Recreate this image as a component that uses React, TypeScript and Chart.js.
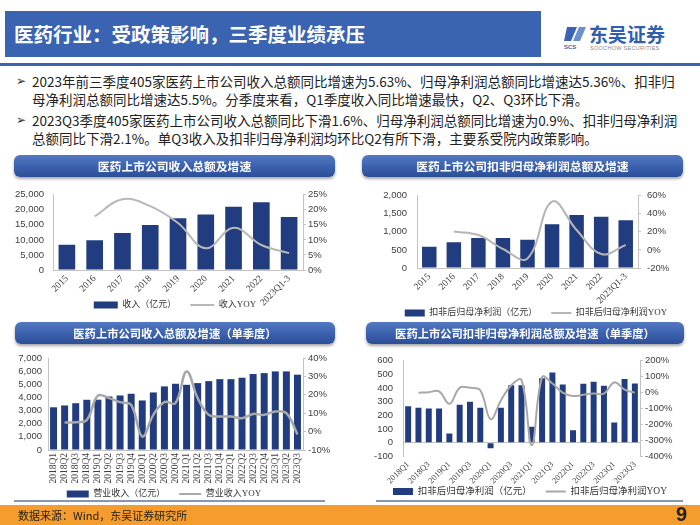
import React, { useEffect, useRef } from "react";
import { Chart, registerables } from "chart.js";
Chart.register(...registerables);

// ---------- DATA ----------
const annualCats = ["2015", "2016", "2017", "2018", "2019", "2020", "2021", "2022", "2023Q1-3"];
const annualRevenue = [8400, 9900, 12300, 14900, 17200, 18400, 21000, 22500, 17600];
const annualRevenueYoy = [null, 17.8, 23.5, 21.2, 15.6, 7.2, 14.0, 8.3, 5.6];
const annualProfit = [585, 710, 830, 830, 780, 1210, 1465, 1420, 1320];
const annualProfitYoy = [null, 20.3, 16.5, 1.0, -9.4, 53.5, 22.0, -4.5, 5.5];

const quarterCats = [
  "2018Q1", "2018Q2", "2018Q3", "2018Q4",
  "2019Q1", "2019Q2", "2019Q3", "2019Q4",
  "2020Q1", "2020Q2", "2020Q3", "2020Q4",
  "2021Q1", "2021Q2", "2021Q3", "2021Q4",
  "2022Q1", "2022Q2", "2022Q3", "2022Q4",
  "2023Q1", "2023Q2", "2023Q3",
];
const quarterRevenue = [3250, 3390, 3560, 3820, 3830, 4070, 4150, 4280, 3770, 4380, 4840, 5040, 4960, 5090, 5240, 5390, 5390, 5500, 5780, 5850, 5980, 5980, 5730];
const quarterRevenueYoy = [null, 4.9, 5.1, 6.4, 19.5, 18.2, 16.0, 14.5, -2.7, 9.1, 16.0, 15.5, 32.7, 18.2, 9.1, 8.2, 8.2, 7.3, 9.6, 9.1, 10.9, 10.0, -1.5];
const quarterProfit = [268, 257, 250, 250, 68, 278, 300, 256, -40, 256, 420, 420, 117, 471, 513, 427, 92, 432, 447, 417, 149, 466, 434];
const quarterProfitYoy = [null, 0, 3, 8, -70, 30, 30, 15, -166, -49, 46, 78, -330, 97, 57, 0, -21, -13, -6, -6, 64, 19, 0];

const titleText = "医药行业：受政策影响，三季度业绩承压";
const bulletLines = [
  ["2023年前三季度405家医药上市公司收入总额同比增速为5.63%、归母净利润总额同比增速达5.36%、扣非归", "母净利润总额同比增速达5.5%。分季度来看，Q1季度收入同比增速最快，Q2、Q3环比下滑。"],
  ["2023Q3季度405家医药上市公司收入总额同比下滑1.6%、归母净利润总额同比增速为0.9%、扣非归母净利润", "总额同比下滑2.1%。单Q3收入及扣非归母净利润均环比Q2有所下滑，主要系受院内政策影响。"],
];

// ---------- STYLE ----------
const BAR = "#213c7f";
const AXIS = "#c3c3c3";
const TICK = "#404040";
const SANS = "'Liberation Sans Narrow', 'Liberation Sans', Arial, sans-serif";
const SERIF = "'Liberation Serif', 'Noto Sans CJK SC', serif";
const CJK = "'Noto Sans CJK SC', 'Liberation Sans', sans-serif";

type Props = {
  left: number; top: number; width: number; height: number;
  cats: string[]; bars: number[]; line: (number | null)[];
  barLabel: string; lineLabel: string;
  yMin: number; yMax: number; yStep: number;
  y1Min: number; y1Max: number; y1Step: number;
  leftW: number; rightW: number; xH: number; padTop: number;
  rot: number; skipOdd: boolean; barPct: number; xFont: number;
  lineColor: string; lineWidth: number;
  leftPad: number; rightPad: number;
  legFont: number; legPad: number; boxW: number; legDx: number; legDy: number;
};

function fmt(v: number) {
  const s = String(Math.abs(v)).replace(/\B(?=(\d{3})+(?!\d))/g, ",");
  return (v < 0 ? "-" : "") + s;
}

function ComboChart(p: Props) {
  const ref = useRef<HTMLCanvasElement>(null);
  useEffect(() => {
    const legendShift = {
      id: "legendShift",
      afterLayout(chart: any) {
        const l = chart.legend;
        if (!l) return;
        l.left += p.legDx; l.right += p.legDx;
        l.top += p.legDy; l.bottom += p.legDy;
      },
    };
    const chart = new Chart(ref.current as HTMLCanvasElement, {
      type: "bar",
      data: {
        labels: p.cats,
        datasets: [
          {
            type: "bar",
            label: p.barLabel,
            data: p.bars,
            backgroundColor: BAR,
            yAxisID: "y",
            barPercentage: p.barPct,
            categoryPercentage: 1,
            order: 2,
          } as any,
          {
            type: "line",
            label: p.lineLabel,
            data: p.line,
            borderColor: p.lineColor,
            borderWidth: p.lineWidth,
            pointRadius: 0,
            tension: 0.4,
            fill: false,
            yAxisID: "y1",
            order: 1,
          } as any,
        ],
      },
      plugins: [legendShift],
      options: {
        animation: false,
        responsive: false,
        maintainAspectRatio: false,
        layout: { padding: { top: p.padTop, left: 0, right: 0, bottom: 0 } },
        plugins: {
          tooltip: { enabled: false },
          legend: {
            position: "bottom",
            labels: {
              usePointStyle: true,
              pointStyleWidth: p.boxW,
              boxHeight: 7,
              padding: p.legPad,
              color: "#333",
              font: { family: SERIF, size: p.legFont },
              generateLabels: () => [
                { text: p.barLabel, fillStyle: BAR, strokeStyle: BAR, lineWidth: 0, pointStyle: "rect", datasetIndex: 0, fontColor: "#333", hidden: false } as any,
                { text: p.lineLabel, fillStyle: p.lineColor, strokeStyle: p.lineColor, lineWidth: 2, pointStyle: "line", datasetIndex: 1, fontColor: "#333", hidden: false } as any,
              ],
            },
          },
        },
        scales: {
          x: {
            offset: true,
            grid: { display: false, drawTicks: false },
            border: { display: false },
            ticks: {
              autoSkip: false,
              minRotation: p.rot,
              maxRotation: p.rot,
              padding: 3,
              color: TICK,
              font: { family: SERIF, size: p.xFont },
              callback: (_v: any, i: number) => (p.skipOdd && i % 2 === 1 ? "" : p.cats[i]),
            },
            afterFit: (s: any) => { s.height = p.xH; },
          },
          y: {
            position: "left",
            min: p.yMin,
            max: p.yMax,
            ticks: {
              autoSkip: false,
              stepSize: p.yStep,
              padding: p.leftPad,
              color: TICK,
              font: { family: SANS, size: 9.5 },
              callback: (v: any) => fmt(Number(v)),
            },
            grid: {
              drawTicks: false,
              color: (ctx: any) => (ctx.tick && ctx.tick.value === 0 ? AXIS : "rgba(0,0,0,0)"),
            },
            border: { display: true, color: AXIS },
            afterFit: (s: any) => { s.width = p.leftW; },
          },
          y1: {
            position: "right",
            min: p.y1Min,
            max: p.y1Max,
            ticks: {
              autoSkip: false,
              stepSize: p.y1Step,
              padding: p.rightPad,
              color: TICK,
              font: { family: SANS, size: 9.5 },
              callback: (v: any) => Number(v) + "%",
            },
            grid: { drawOnChartArea: false, drawTicks: true, tickLength: 3, color: AXIS },
            border: { display: true, color: AXIS },
            afterFit: (s: any) => { s.width = p.rightW; },
          },
        },
      } as any,
    });
    return () => chart.destroy();
  }, []);
  return (
    <canvas
      ref={ref}
      width={p.width}
      height={p.height}
      style={{ position: "absolute", left: p.left, top: p.top, width: p.width, height: p.height }}
    />
  );
}

function Pill({ left, top, width, text, size }: { left: number; top: number; width: number; text: string; size: number }) {
  return (
    <div
      style={{
        position: "absolute", left, top, width, height: 22, borderRadius: 6,
        background: "linear-gradient(to bottom, #5479c2 0%, #3b60ad 55%, #2c4e98 100%)",
        boxShadow: "0 2px 3px rgba(0,0,0,0.35)",
        color: "#fff", fontFamily: CJK, fontWeight: 700, fontSize: size,
        lineHeight: "22px", textAlign: "center", zIndex: 2, whiteSpace: "nowrap",
      }}
    >
      {text}
    </div>
  );
}

export default function App() {
  const lineTops = [72, 90, 111, 129];
  return (
    <div style={{ position: "fixed", left: 0, top: 0, width: 700, height: 525, overflow: "hidden", background: "#fff" }}>
      {/* header */}
      <div style={{ position: "absolute", left: 5, top: 11, width: 536, height: 46, background: "#3a63b1" }} />
      <div style={{ position: "absolute", left: 14, top: 11, height: 46, lineHeight: "46px", color: "#fff", fontFamily: CJK, fontWeight: 700, fontSize: 19.5, whiteSpace: "nowrap" }}>
        {titleText}
      </div>
      <svg style={{ position: "absolute", left: 563, top: 25 }} width={24} height={26} viewBox="0 0 24 26">
        <path d="M4 2 L14 2 L8 16 L1 16 Z" fill="#3a63b1" />
        <path d="M16 2 L23 2 L17 16 L10 16 Z" fill="#6d8fcf" />
        <text x="1" y="24" fontSize="6" fontWeight="700" fill="#3a63b1" fontFamily="Liberation Sans">SCS</text>
      </svg>
      <div style={{ position: "absolute", left: 589, top: 24, lineHeight: "20px", fontFamily: CJK, fontWeight: 700, fontSize: 19, color: "#2f5fae", whiteSpace: "nowrap" }}>
        东吴证券
      </div>
      <div style={{ position: "absolute", left: 590, top: 45, lineHeight: "6px", fontFamily: "'Liberation Sans', sans-serif", fontSize: 5.5, color: "#8a8a8a", whiteSpace: "nowrap", letterSpacing: 0.3 }}>
        SOOCHOW SECURITIES
      </div>
      <div style={{ position: "absolute", left: 0, top: 63, width: 700, height: 3, background: "#3a63b1" }} />

      {/* bullets */}
      {bulletLines.map((b, bi) => (
        <React.Fragment key={bi}>
          <div style={{ position: "absolute", left: 16, top: lineTops[bi * 2], lineHeight: "18px", fontSize: 12, fontFamily: "'DejaVu Sans', sans-serif", color: "#333" }}>➢</div>
          {b.map((t, li) => (
            <div key={li} style={{ position: "absolute", left: 32, top: lineTops[bi * 2 + li], lineHeight: "18px", fontSize: 13.5, fontFamily: CJK, color: "#222", whiteSpace: "nowrap" }}>
              {t}
            </div>
          ))}
        </React.Fragment>
      ))}

      <ComboChart
        left={10} top={180} width={330} height={159}
        cats={annualCats} bars={annualRevenue} line={annualRevenueYoy}
        barLabel="收入（亿元）" lineLabel="收入YOY"
        yMin={0} yMax={25000} yStep={5000} y1Min={0} y1Max={25} y1Step={5}
        leftW={43} rightW={37} xH={36} padTop={7}
        rot={45} skipOdd={false} barPct={0.6} xFont={9.5}
        lineColor="#b8b8b8" lineWidth={2}
        leftPad={9} rightPad={2}
        legFont={9} legPad={14} boxW={24} legDx={0} legDy={-19.5}
      />
      <ComboChart
        left={370} top={180} width={322} height={158}
        cats={annualCats} bars={annualProfit} line={annualProfitYoy}
        barLabel="扣非后归母净利润（亿元）" lineLabel="扣非后归母净利润YOY"
        yMin={0} yMax={2000} yStep={500} y1Min={-20} y1Max={60} y1Step={20}
        leftW={47} rightW={54} xH={37} padTop={5}
        rot={45} skipOdd={false} barPct={0.59} xFont={9.5}
        lineColor="#b5b5b5" lineWidth={2}
        leftPad={10} rightPad={6}
        legFont={9} legPad={14} boxW={20} legDx={5} legDy={-10.5}
      />
      <ComboChart
        left={8} top={345} width={330} height={174}
        cats={quarterCats} bars={quarterRevenue} line={quarterRevenueYoy}
        barLabel="营业收入（亿元）" lineLabel="营业收入YOY"
        yMin={0} yMax={7000} yStep={1000} y1Min={-10} y1Max={40} y1Step={10}
        leftW={40} rightW={35} xH={36} padTop={13}
        rot={90} skipOdd={false} barPct={0.63} xFont={9.5}
        lineColor="#a8a8a8" lineWidth={2.5}
        leftPad={6} rightPad={2}
        legFont={9} legPad={14} boxW={22} legDx={-9} legDy={-10.5}
      />
      <ComboChart
        left={362} top={345} width={330} height={173}
        cats={quarterCats} bars={quarterProfit} line={quarterProfitYoy}
        barLabel="扣非后归母净利润（亿元）" lineLabel="扣非后归母净利润YOY"
        yMin={-100} yMax={600} yStep={100} y1Min={-400} y1Max={200} y1Step={100}
        leftW={41} rightW={52} xH={28} padTop={13}
        rot={45} skipOdd={true} barPct={0.58} xFont={8.5}
        lineColor="#a8a8a8" lineWidth={2}
        leftPad={10} rightPad={2}
        legFont={9.5} legPad={14} boxW={20} legDx={3} legDy={-11.75}
      />

      {/* panel titles */}
      <Pill left={14} top={155} width={321} text="医药上市公司收入总额及增速" size={11.8} />
      <Pill left={362} top={155} width={321} text="医药上市公司扣非归母净利润总额及增速" size={11.8} />
      <Pill left={15} top={322} width={320} text="医药上市公司收入总额及增速（单季度）" size={11.3} />
      <Pill left={366} top={322} width={318} text="医药上市公司扣非归母净利润总额及增速（单季度）" size={11.3} />

      {/* dividers + footer */}
      <div style={{ position: "absolute", left: 14, top: 500, width: 311, height: 1.5, background: "#8797b2" }} />
      <div style={{ position: "absolute", left: 376, top: 500, width: 307, height: 1.5, background: "#8797b2" }} />
      <div style={{ position: "absolute", left: 0, top: 505, width: 700, height: 20, background: "#f49c2d" }} />
      <div style={{ position: "absolute", left: 18, top: 505, lineHeight: "20px", fontSize: 11, fontFamily: CJK, color: "#1e1e1e", whiteSpace: "nowrap" }}>
        数据来源：Wind，东吴证券研究所
      </div>
      <div style={{ position: "absolute", left: 676, top: 503, lineHeight: "22px", fontSize: 20, fontWeight: 700, fontFamily: "'Liberation Sans', sans-serif", color: "#222" }}>
        9
      </div>
    </div>
  );
}
